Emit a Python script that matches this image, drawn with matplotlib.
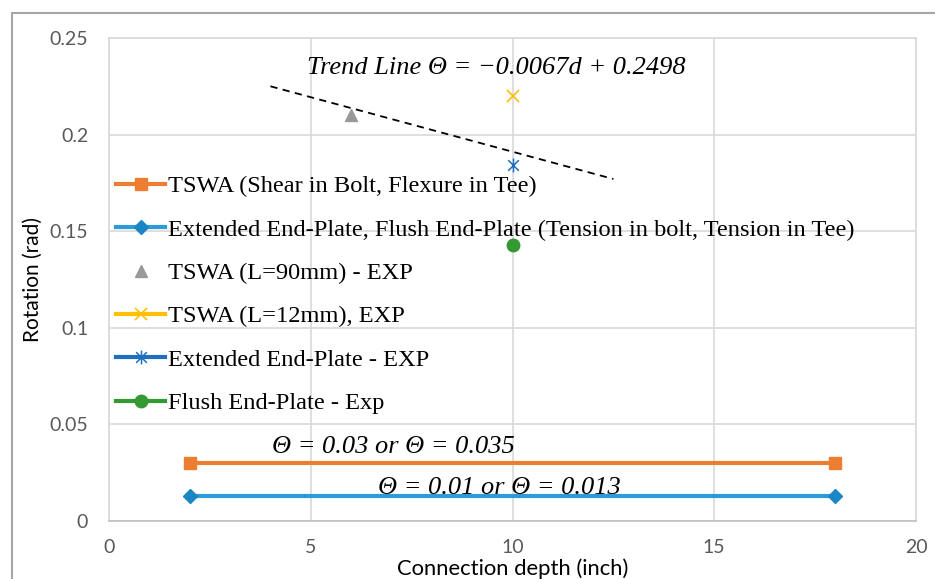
import matplotlib.pyplot as plt
from matplotlib.patches import Rectangle
from matplotlib.lines import Line2D
from matplotlib.path import Path

# connection depth (inch) vs rotation (rad)
tswa_x = [2, 18]
tswa_y = [0.03, 0.03]

plate_x = [2, 18]
plate_y = [0.013, 0.013]

exp90_x = [6]
exp90_y = [0.21]

exp12_x = [10]
exp12_y = [0.22]

ext_x = [10]
ext_y = [0.184]

flush_x = [10]
flush_y = [0.143]

trend_x = [4, 12.5]
trend_y = [0.225, 0.177]

x_ticks = [0, 5, 10, 15, 20]
y_ticks = [0, 0.05, 0.1, 0.15, 0.2, 0.25]
y_tick_labels = ["0", "0.05", "0.1", "0.15", "0.2", "0.25"]

serif = "Liberation Serif"
tick_font = "Lato"

# asterisk marker: an x with a vertical stroke through it
star = Path([(-1, -1), (1, 1), (-1, 1), (1, -1), (0, -1.3), (0, 1.3)],
            [Path.MOVETO, Path.LINETO] * 3)

fig = plt.figure(figsize=(9.35, 5.79), dpi=100)
ax = fig.add_axes([0.1166, 0.1002, 0.8631, 0.8342])

# outer chart border
fig.patches.append(Rectangle((12 / 935, -0.05), 1.0, 1.05 - 13 / 579,
                             transform=fig.transFigure, fill=False,
                             edgecolor="#a6a6a6", linewidth=1.5))

styles = [
    dict(color="#ED7D31", marker="s", markersize=8.5),
    dict(color="#2E9BD8", marker="D", markersize=7,
         markerfacecolor="#1B86C4", markeredgecolor="#1B86C4"),
    dict(color="#999999", marker="^", markersize=8.5),
    dict(color="#FFC000", marker="x", markersize=9, markeredgewidth=1.2),
    dict(color="#1F6FC0", marker=star, markersize=10, markeredgewidth=1.1),
    dict(color="#339933", marker="o", markersize=9),
]
labels = [
    "TSWA (Shear in Bolt, Flexure in Tee)",
    "Extended End-Plate, Flush End-Plate (Tension in bolt, Tension in Tee)",
    "TSWA (L=90mm) - EXP",
    "TSWA (L=12mm), EXP",
    "Extended End-Plate - EXP",
    "Flush End-Plate - Exp",
]

ax.plot(tswa_x, tswa_y, linewidth=3, zorder=3, **styles[0])
ax.plot(plate_x, plate_y, linewidth=3, zorder=3, **styles[1])
ax.plot(exp90_x, exp90_y, linestyle="none", zorder=4, **styles[2])
ax.plot(exp12_x, exp12_y, linestyle="none", zorder=4, **styles[3])
ax.plot(ext_x, ext_y, linestyle="none", zorder=4, **styles[4])
ax.plot(flush_x, flush_y, linestyle="none", zorder=4, **styles[5])

ax.plot(trend_x, trend_y, color="black", linestyle=(0, (4, 3)),
        linewidth=1.3, zorder=3)

ax.text(9.59, 0.2345, "Trend Line \u0398 = \u22120.0067d + 0.2498",
        family=serif, style="italic", fontsize=19, ha="center", va="center")
ax.text(7.04, 0.0383, "\u0398 = 0.03 or \u0398 = 0.035",
        family=serif, style="italic", fontsize=19, ha="center", va="center")
ax.text(9.67, 0.0171, "\u0398 = 0.01 or \u0398 = 0.013",
        family=serif, style="italic", fontsize=19, ha="center", va="center")

ax.set_xlim(0, 20)
ax.set_ylim(0, 0.25)
ax.set_xticks(x_ticks)
ax.set_yticks(y_ticks)
ax.set_yticklabels(y_tick_labels)
ax.tick_params(length=0, labelsize=14, labelcolor="#595959")
ax.tick_params(axis="y", pad=15)
ax.tick_params(axis="x", pad=13)
for lab in ax.get_xticklabels() + ax.get_yticklabels():
    lab.set_family(tick_font)

ax.grid(True, color="#d9d9d9", linewidth=1.2)
ax.set_axisbelow(True)
for sp in ax.spines.values():
    sp.set_color("#d9d9d9")
    sp.set_linewidth(1.2)
ax.spines["bottom"].set_color("#bfbfbf")

ax.set_xlabel("Connection depth (inch)", family=tick_font, fontsize=15.8,
              labelpad=2)
ax.set_ylabel("Rotation (rad)", family=tick_font, fontsize=15, labelpad=5)

# legend entries: the triangle series has no line, the rest do
handles = []
for i, st in enumerate(styles):
    ls = "none" if i == 2 else "-"
    handles.append(Line2D([], [], linestyle=ls, linewidth=3, **st))
ax.legend(handles, labels, loc="upper left",
          bbox_to_anchor=(0.0, 0.731), frameon=False,
          prop={"family": serif, "size": 17.6}, handlelength=2.0,
          handletextpad=0.12, labelspacing=0.87, borderpad=0,
          borderaxespad=0.3)

fig.savefig("out.png", dpi=100)
